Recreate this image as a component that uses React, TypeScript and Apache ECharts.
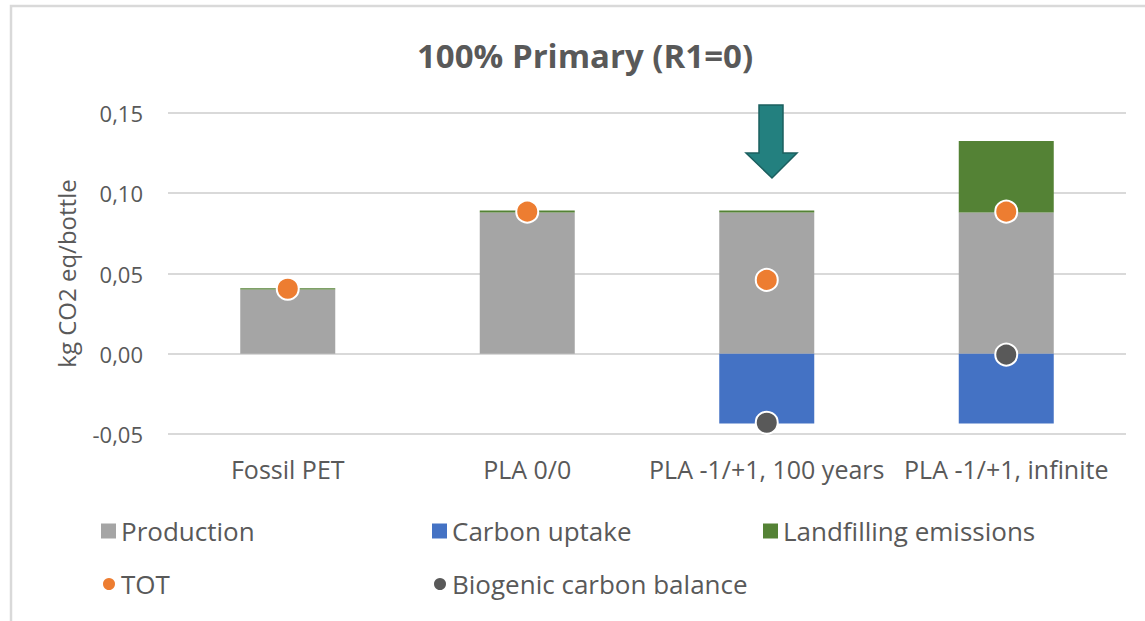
import React, { useEffect, useRef } from 'react';
import * as echarts from 'echarts';

const categories = ['Fossil PET', 'PLA 0/0', 'PLA -1/+1, 100 years', 'PLA -1/+1, infinite'];
const production = [0.04, 0.088, 0.088, 0.088];
const carbonUptake = [0, 0, -0.0435, -0.0435];
const landfilling = [0.0008, 0.0012, 0.0012, 0.0445];
const tot = [0.0405, 0.0885, 0.046, 0.0885];
const biogenic = [null, null, -0.043, -0.0005];

const yMin = -0.05;
const yMax = 0.15;
const yStep = 0.05;

const FONT = '"Open Sans", "Noto Sans", sans-serif';
const TXT = '#595959';

export default function App() {
  const ref = useRef<HTMLDivElement>(null);
  useEffect(() => {
    if (!ref.current) return;
    const chart = echarts.init(ref.current, undefined, { renderer: 'svg' });
    const legendText = { color: TXT, fontSize: 26, fontFamily: FONT };
    const mkLegend = (name: string, left: number, top: number, icon: string, size: number) => ({
      data: [name],
      left,
      top,
      icon,
      padding: 0,
      itemWidth: size,
      itemHeight: size,
      itemGap: 9,
      selectedMode: false,
      textStyle: legendText,
    });
    chart.setOption({
      animation: false,
      backgroundColor: '#ffffff',
      textStyle: { fontFamily: FONT },
      title: {
        text: '100% Primary (R1=0)',
        left: 412,
        top: 34,
        textStyle: { fontSize: 33, fontWeight: 'bold', color: TXT, fontFamily: FONT },
      },
      grid: { left: 168, right: 19, top: 113, bottom: 187, containLabel: false },
      legend: [
        mkLegend('Production', 101, 518, 'rect', 15),
        mkLegend('Carbon uptake', 432, 518, 'rect', 15),
        mkLegend('Landfilling emissions', 763, 518, 'rect', 15),
        mkLegend('TOT', 101, 571, 'circle', 14),
        mkLegend('Biogenic carbon balance', 432, 571, 'circle', 14),
      ],
      xAxis: {
        type: 'category',
        data: categories,
        axisLine: { show: false },
        axisTick: { show: false },
        position: 'bottom',
        axisLabel: {
          color: TXT,
          fontSize: 25,
          fontFamily: FONT,
          margin: 22,
          interval: 0,
          hideOverlap: false,
        },
      },
      yAxis: {
        type: 'value',
        min: yMin,
        max: yMax,
        interval: yStep,
        name: 'kg CO2 eq/bottle',
        nameLocation: 'middle',
        nameGap: 90,
        nameTextStyle: { color: TXT, fontSize: 24, fontFamily: FONT },
        axisLine: { show: false },
        axisTick: { show: false },
        splitLine: { lineStyle: { color: '#d9d9d9', width: 2 } },
        axisLabel: {
          color: TXT,
          fontSize: 22,
          fontFamily: FONT,
          margin: 25,
          formatter: (v: number) => v.toFixed(2).replace('.', ','),
        },
      },
      series: [
        {
          name: 'Production',
          type: 'bar',
          stack: 'total',
          barWidth: 95,
          data: production,
          itemStyle: { color: '#a5a5a5' },
        },
        {
          name: 'Carbon uptake',
          type: 'bar',
          stack: 'total',
          barWidth: 95,
          data: carbonUptake,
          itemStyle: { color: '#4472c4' },
        },
        {
          name: 'Landfilling emissions',
          type: 'bar',
          stack: 'total',
          barWidth: 95,
          data: landfilling,
          itemStyle: { color: '#548235' },
        },
        {
          name: 'TOT',
          type: 'scatter',
          symbol: 'circle',
          symbolSize: 22,
          data: tot,
          z: 5,
          itemStyle: { color: '#ed7d31', borderColor: '#ffffff', borderWidth: 2, opacity: 1 },
        },
        {
          name: 'Biogenic carbon balance',
          type: 'scatter',
          symbol: 'circle',
          symbolSize: 22,
          data: biogenic,
          z: 5,
          itemStyle: { color: '#595959', borderColor: '#ffffff', borderWidth: 2, opacity: 1 },
        },
      ],
      graphic: [
        {
          type: 'polyline',
          shape: { points: [[11, 700], [11, 6], [1200, 6]] },
          style: { stroke: '#d9d9d9', lineWidth: 2.5, fill: null },
          silent: true,
        },
        {
          type: 'polygon',
          shape: {
            points: [
              [759, 105], [783, 105], [783, 153], [797, 153],
              [772, 178], [746, 153], [759, 153],
            ],
          },
          style: { fill: '#23807f', stroke: '#1b5f5f', lineWidth: 1.5 },
          z: 10,
        },
      ],
    });
    return () => chart.dispose();
  }, []);
  return (
    <div
      ref={ref}
      style={{ position: 'fixed', left: 0, top: 0, width: 1145, height: 621, background: '#fff' }}
    />
  );
}
